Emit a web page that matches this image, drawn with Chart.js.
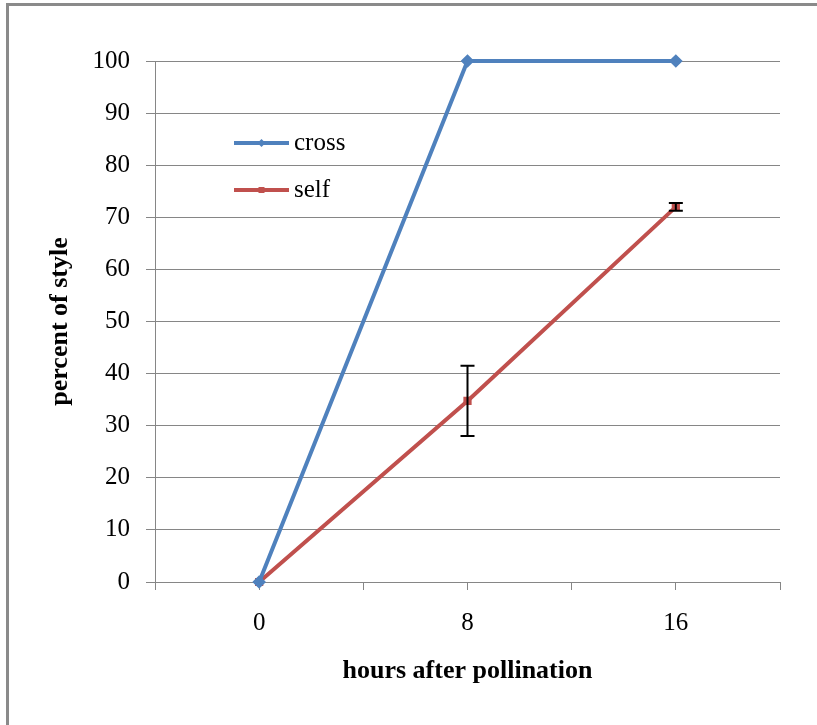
<!DOCTYPE html>
<html>
<head>
<meta charset="utf-8">
<script src="https://cdn.jsdelivr.net/npm/chart.js@4"></script>
<style>
  html, body { margin: 0; padding: 0; background: #fff; }
  #wrap { position: relative; width: 817px; height: 725px; }
  #frame { position: absolute; left: 6px; top: 3px; right: -10px; bottom: -10px;
           border-left: 3px solid #8a8a8a; border-top: 3px solid #8a8a8a; pointer-events: none; }
  canvas { position: absolute; left: 0; top: 0; }
</style>
</head>
<body>
<div id="wrap">
  <canvas id="c" width="817" height="725"></canvas>
  <div id="frame"></div>
</div>
<script>
const hours = [0, 8, 16];
const crossValues = [0, 100, 100];
const selfValues = [0, 34.75, 72];
const selfErrors = [0, 6.75, 0.75];
const xTickLabels = [0, 8, 16];
const seriesNames = ['cross', 'self'];

const FONT = "'Liberation Serif', 'Times New Roman', serif";
const BLUE = '#4F81BD';
const RED = '#C0504D';

const toPoints = vals => hours.map((h, i) => ({ x: h, y: vals[i] }));

const errorBarPlugin = {
  id: 'errorBars',
  afterDatasetsDraw(chart) {
    const { ctx, scales } = chart;
    ctx.save();
    ctx.strokeStyle = '#000';
    ctx.lineWidth = 2;
    hours.forEach((h, i) => {
      const e = selfErrors[i];
      if (!e) return;
      const x = scales.x.getPixelForValue(h);
      const yTop = scales.y.getPixelForValue(selfValues[i] + e);
      const yBot = scales.y.getPixelForValue(selfValues[i] - e);
      const cap = 7;
      ctx.beginPath();
      ctx.moveTo(x, yTop); ctx.lineTo(x, yBot);
      ctx.moveTo(x - cap, yTop); ctx.lineTo(x + cap, yTop);
      ctx.moveTo(x - cap, yBot); ctx.lineTo(x + cap, yBot);
      ctx.stroke();
    });
    ctx.restore();
  }
};

const legendPlugin = {
  id: 'insideLegend',
  afterDraw(chart) {
    const { ctx } = chart;
    const x0 = 234, x1 = 289, textX = 294;
    const ys = [143, 190];
    ctx.save();
    chart.data.datasets.forEach((ds, i) => {
      const y = ys[i];
      ctx.strokeStyle = ds.borderColor;
      ctx.lineWidth = 4;
      ctx.beginPath(); ctx.moveTo(x0, y); ctx.lineTo(x1, y); ctx.stroke();
      ctx.fillStyle = ds.borderColor;
      const mx = (x0 + x1) / 2;
      if (ds.pointStyle === 'rectRot') {
        ctx.beginPath();
        ctx.moveTo(mx, y - 4); ctx.lineTo(mx + 4, y); ctx.lineTo(mx, y + 4); ctx.lineTo(mx - 4, y);
        ctx.closePath(); ctx.fill();
      } else {
        ctx.fillRect(mx - 3, y - 3, 6, 6);
      }
      ctx.fillStyle = '#000';
      ctx.font = '25px ' + FONT;
      ctx.textBaseline = 'middle';
      ctx.textAlign = 'left';
      ctx.fillText(ds.label, textX, y);
    });
    ctx.restore();
  }
};

new Chart(document.getElementById('c'), {
  type: 'line',
  data: {
    datasets: [
      { label: seriesNames[0], data: toPoints(crossValues), borderColor: BLUE, backgroundColor: BLUE,
        borderWidth: 4, pointStyle: 'rectRot', pointRadius: 4, pointHoverRadius: 4, tension: 0, clip: false },
      { label: seriesNames[1], data: toPoints(selfValues), borderColor: RED, backgroundColor: RED,
        borderWidth: 4, pointStyle: 'rect', pointRadius: 3, pointHoverRadius: 3, tension: 0, clip: false }
    ]
  },
  options: {
    responsive: false,
    animation: false,
    devicePixelRatio: 1,
    layout: { padding: { left: 0, top: 61, right: 37, bottom: 0 } },
    plugins: { legend: { display: false }, tooltip: { enabled: false } },
    scales: {
      x: {
        type: 'linear',
        min: -4, max: 20,
        afterFit(scale) { scale.height = 143; },
        border: { display: true, color: '#868686', width: 1 },
        grid: { drawOnChartArea: false, drawTicks: true, tickLength: 8, color: '#868686' },
        ticks: {
          stepSize: 4, autoSkip: false, maxRotation: 0, padding: 18,
          color: '#000', font: { family: FONT, size: 25 },
          callback: v => (xTickLabels.includes(v) ? String(v) : '')
        },
        title: { display: true, text: 'hours after pollination', color: '#000',
                 font: { family: FONT, size: 26, weight: 'bold' }, padding: { top: 0, bottom: 38 } }
      },
      y: {
        min: 0, max: 100,
        afterFit(scale) { scale.width = 155; },
        border: { display: true, color: '#868686', width: 1 },
        grid: { color: '#868686', lineWidth: 1, tickLength: 9 },
        ticks: { stepSize: 10, padding: 16, color: '#000', font: { family: FONT, size: 25 } },
        title: { display: true, text: 'percent of style', color: '#000',
                 font: { family: FONT, size: 26, weight: 'bold' }, padding: { top: 45, bottom: 0 } }
      }
    }
  },
  plugins: [errorBarPlugin, legendPlugin]
});
</script>
</body>
</html>
